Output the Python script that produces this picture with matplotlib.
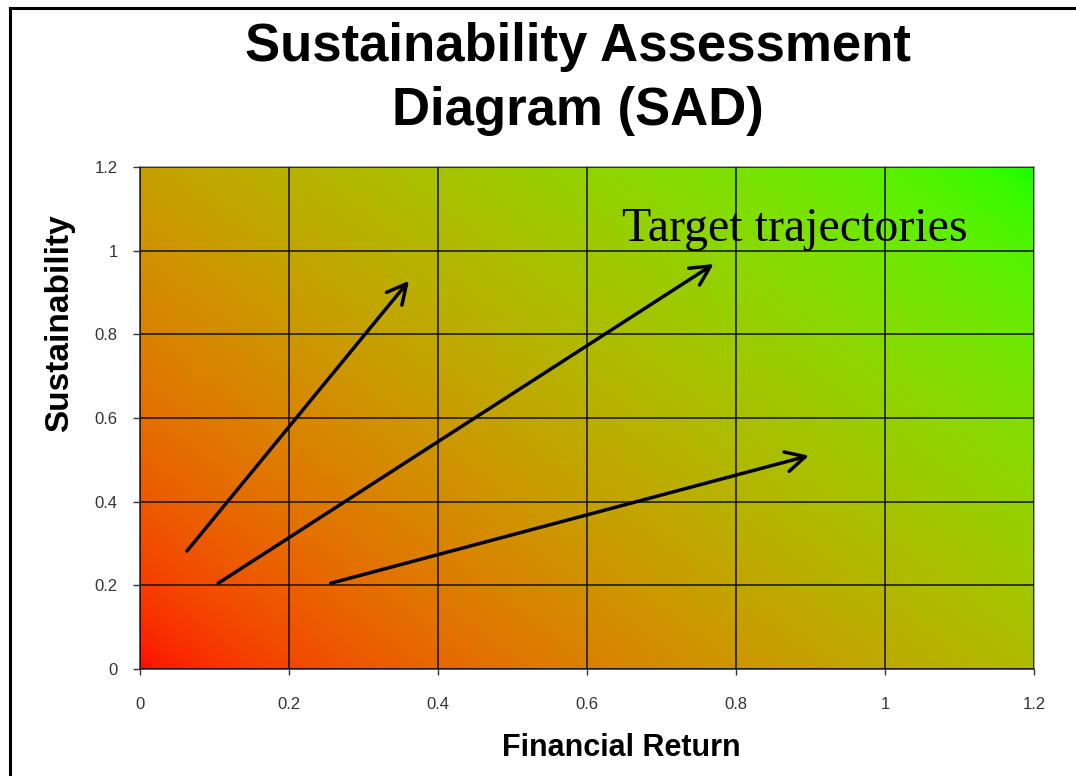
import numpy as np
import matplotlib
matplotlib.use("Agg")
import matplotlib.pyplot as plt
from matplotlib.lines import Line2D
from matplotlib.patches import ArrowStyle

# ---- data -------------------------------------------------------------
x_ticks = [0, 0.2, 0.4, 0.6, 0.8, 1.0, 1.2]
y_ticks = [0, 0.2, 0.4, 0.6, 0.8, 1.0, 1.2]
x_tick_labels = ["0", "0.2", "0.4", "0.6", "0.8", "1", "1.2"]
y_tick_labels = ["0", "0.2", "0.4", "0.6", "0.8", "1", "1.2"]

# trajectories: start (financial return, sustainability) -> target
start_x = [0.063, 0.105, 0.256]
start_y = [0.282, 0.205, 0.205]
end_x = [0.361, 0.770, 0.898]
end_y = [0.928, 0.968, 0.510]

title_lines = ["Sustainability Assessment", "Diagram (SAD)"]
x_label = "Financial Return"
y_label = "Sustainability"
note_text = "Target trajectories"

# ---- figure ----------------------------------------------------------
W, H = 1076, 776
fig = plt.figure(figsize=(W / 100, H / 100), dpi=100)
sans = ["Liberation Sans", "DejaVu Sans"]
serif = ["Liberation Serif", "DejaVu Serif"]

ax_l, ax_b, ax_w, ax_h = 140, 669, 894, 502  # pixel geometry of plot area
ax = fig.add_axes([ax_l / W, (H - ax_b) / H, ax_w / W, ax_h / H])

# diagonal red -> green gradient background
ny, nx = ax_h, ax_w
u = np.linspace(0, 1, nx)[None, :]
v = np.linspace(1, 0, ny)[:, None]
t_corner = (u + v) / 2                       # corner-to-corner diagonal
t_screen = (u * nx + v * ny) / (nx + ny)     # 45 degrees on screen
t = 0.5 * t_corner + 0.5 * t_screen
r = (1 - t) ** 0.45
g = t ** 0.55
img = np.dstack([r, g, np.zeros_like(t)])
ax.imshow(img, extent=[0, 1.2, 0, 1.2], aspect="auto", origin="upper",
          interpolation="bilinear", zorder=0)

ax.set_xlim(0, 1.2)
ax.set_ylim(0, 1.2)
ax.set_xticks(x_ticks)
ax.set_yticks(y_ticks)
ax.set_xticklabels(x_tick_labels)
ax.set_yticklabels(y_tick_labels)
for lab in ax.get_xticklabels() + ax.get_yticklabels():
    lab.set_family(sans)
    lab.set_fontsize(12)
    lab.set_color("#333333")
ax.tick_params(axis="x", direction="out", length=4, width=1, color="#333333", pad=16)
ax.tick_params(axis="y", direction="out", length=5, width=1, color="#333333", pad=11)

ax.grid(True, color="#111111", linewidth=1.1, zorder=1)
ax.set_axisbelow(False)
for side in ("left", "bottom"):
    ax.spines[side].set_color("#333333")
    ax.spines[side].set_linewidth(1.2)
for side in ("top", "right"):
    ax.spines[side].set_color("#9a9a9a")
    ax.spines[side].set_linewidth(1.2)

# trajectory arrows
style = ArrowStyle("->", head_length=1.4, head_width=0.72)
for sx, sy, ex, ey in zip(start_x, start_y, end_x, end_y):
    ax.annotate("", xy=(ex, ey), xytext=(sx, sy),
                arrowprops=dict(arrowstyle=style, mutation_scale=10,
                                color="black", lw=2.5,
                                shrinkA=0, shrinkB=0), zorder=3)

ax.text(0.647, 1.023, note_text, family=serif, fontsize=34.5,
        color="black", ha="left", va="baseline", zorder=4)

# titles and axis labels
fig.text(578 / W, 1 - 61.5 / H, title_lines[0], family=sans, fontsize=38,
         fontweight="bold", ha="center", va="baseline")
fig.text(578 / W, 1 - 125 / H, title_lines[1], family=sans, fontsize=38,
         fontweight="bold", ha="center", va="baseline")
fig.text(621 / W, 1 - 756 / H, x_label, family=sans, fontsize=22,
         fontweight="bold", ha="center", va="baseline")
fig.text(60 / W, 1 - 323.5 / H, y_label, family=sans, fontsize=24,
         fontweight="bold", ha="center", va="center", rotation=90)

# frame lines along the left and top edges
fig.add_artist(Line2D([9.5 / W, 9.5 / W], [0, 1 - 8 / H], transform=fig.transFigure,
                      color="black", linewidth=2.2))
fig.add_artist(Line2D([9.5 / W, 1], [1 - 8 / H, 1 - 8 / H], transform=fig.transFigure,
                      color="black", linewidth=2.2))

fig.savefig("out.png", dpi=100)
